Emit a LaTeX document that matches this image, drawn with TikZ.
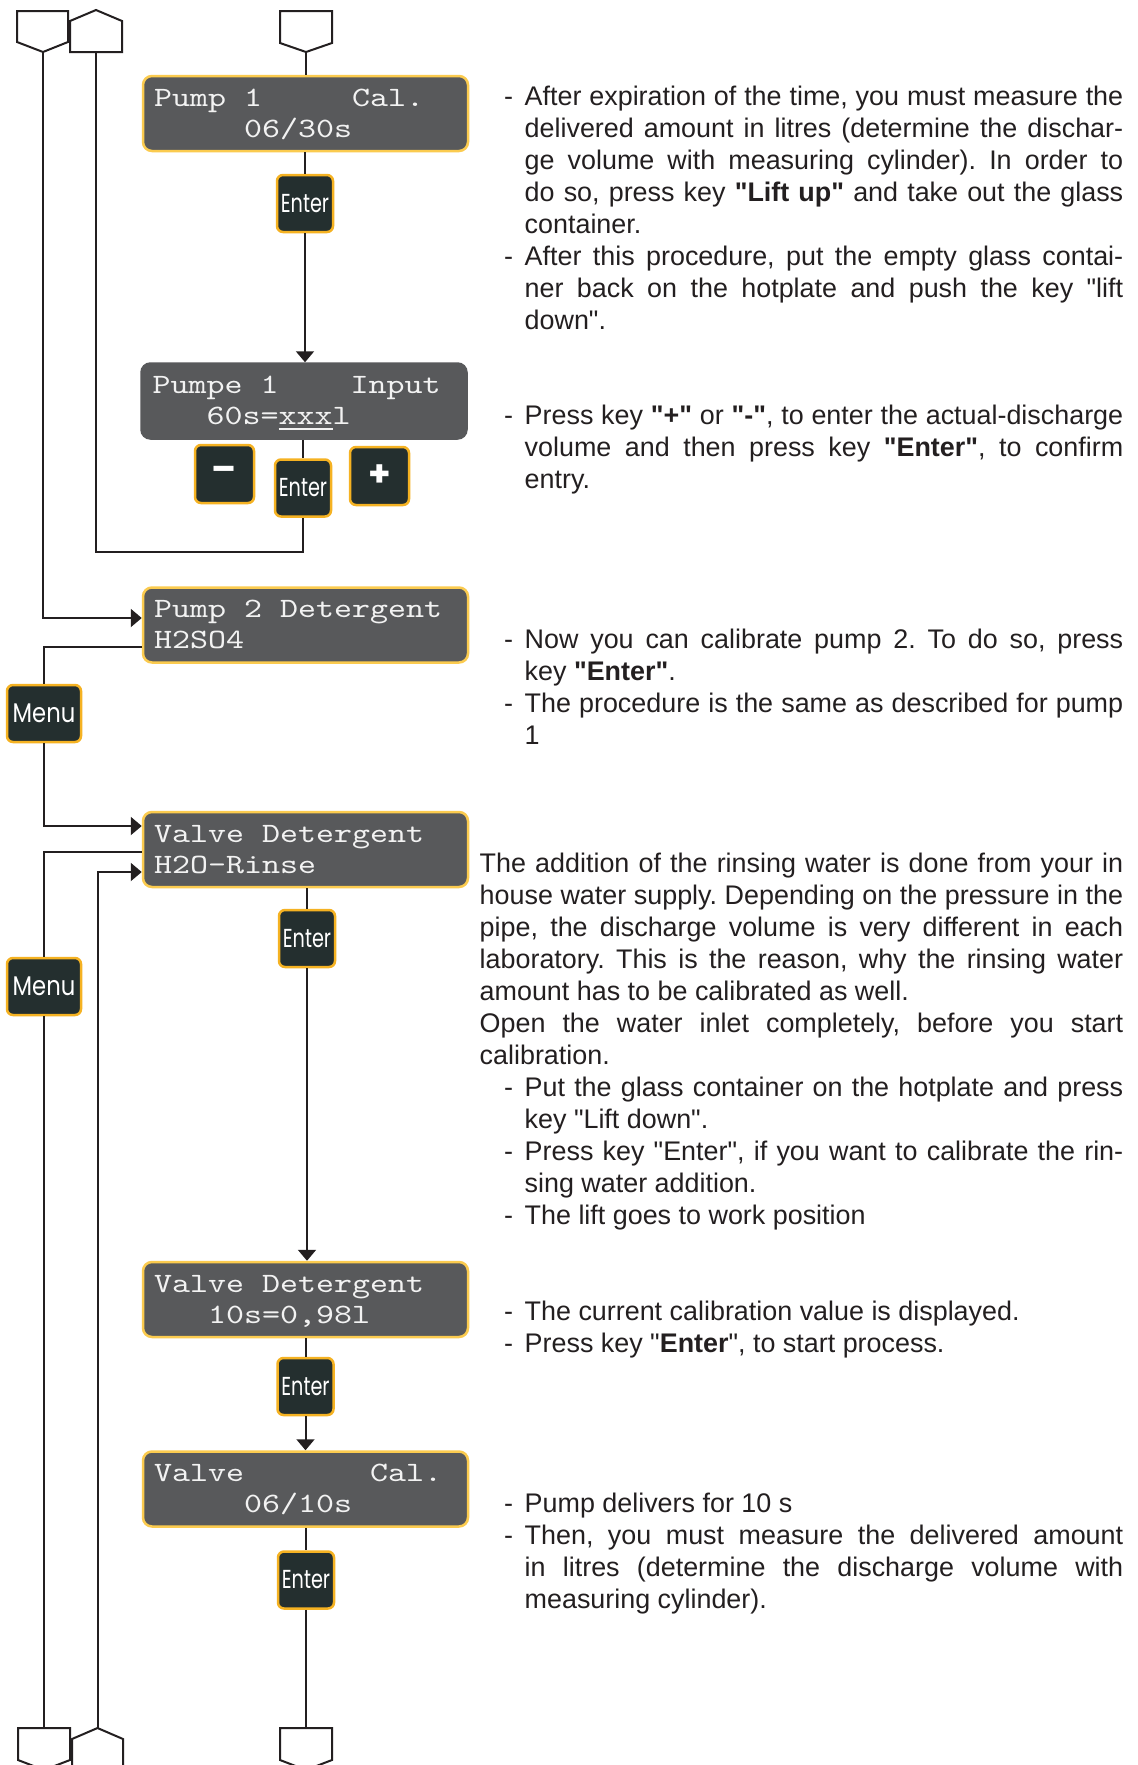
\documentclass[tikz,border=0pt]{standalone}
\usepackage{fontspec}
\usepackage{graphicx}
\setmainfont{Liberation Sans}[Ligatures=TeXOff]
\newfontfamily\keyfont{Poppins}
\newfontfamily\lcdfont{lmmono10-regular.otf}[FakeStretch=1.2245]
\usetikzlibrary{arrows.meta,calc}
\definecolor{ink}{HTML}{231F20}
\definecolor{lcd}{HTML}{58595B}
\definecolor{lcdtext}{HTML}{F2F2F2}
\definecolor{lcdborder}{HTML}{FBCB4F}
\definecolor{keyfill}{HTML}{242F2F}
\definecolor{keyborder}{HTML}{F5B222}
\tolerance=9999 \hyphenpenalty=10000 \hbadness=10000 \hfuzz=30pt
\newcommand\sk[1]{\hspace*{#1\dimexpr 18pt\relax}}
\newcommand\bodyset{\spaceskip=0pt\xspaceskip=0pt\frenchspacing\rightskip=0pt\leftskip=0pt\parfillskip=0pt plus 1fil}
\newcommand\fitem{\hangindent=20.5pt\hangafter=1\makebox[20.5pt][l]{-}}
\newcommand\bitem{\par\hangindent=20.5pt\hangafter=1\noindent\makebox[20.5pt][l]{-}}
\newcommand\lcd[6]{%
  \node[#4] (#1) at (#2,#3) {};
  \node[lcdline] (#1a) at ($(#1.center)+(-151.5,-7.5)$) {#5};
  \node[lcdline] (#1b) at ($(#1.center)+(-151.5,23.5)$) {#6};}
\tikzset{
  conn/.style={draw=ink, line width=2pt},
  arr/.style={-{Triangle[width=18pt,length=11pt]}},
  pent/.style={draw=ink, fill=white, line width=2pt, line join=miter},
  lcdbox/.style={rectangle, rounded corners=9pt, fill=lcd, draw=lcdborder, line width=2.5pt,
    minimum width=325pt, minimum height=75pt, inner sep=0pt},
  lcdplain/.style={lcdbox, draw=lcd},
  lcdline/.style={inner sep=0pt, anchor=base west, text=lcdtext, font=\lcdfont\fontsize{28}{31}\selectfont},
  keybox/.style={rectangle, rounded corners=6pt, fill=keyfill, draw=keyborder, line width=2.5pt,
    inner sep=0pt, text=white, font=\keyfont\fontsize{26}{26}\selectfont},
  enterkey/.style={keybox, minimum width=56pt, minimum height=57pt},
  menukey/.style={keybox, minimum width=74pt, minimum height=57pt, font=\keyfont\fontsize{27}{27}\selectfont},
  signkey/.style={keybox, minimum width=59pt, minimum height=58pt, font=\keyfont\bfseries\fontsize{36}{36}\selectfont},
  body/.style={inner sep=0pt, anchor=base west, text=ink, align=justify, font=\fontsize{26.9}{32}\selectfont},
}
\begin{document}
\begin{tikzpicture}[x=1pt,y=-1pt]
\useasboundingbox (0,0) rectangle (1138,1765);
\clip (0,0) rectangle (1138,1765);
\fill[white] (0,0) rectangle (1138,1765);

% off-page connectors
\draw[pent] (17,11) -- (68,11) -- (68,42) -- (43,52) -- (17,42) -- cycle;
\coordinate (pTL) at (43,52);
\draw[pent] (70,52) -- (70,21) -- (96,10) -- (122,21) -- (122,52) -- cycle;
\coordinate (pTH) at (96,52);
\draw[pent] (280,11) -- (332,11) -- (332,43) -- (306,52) -- (280,43) -- cycle;
\coordinate (pTR) at (306,52);
\draw[pent] (18,1728) -- (70,1728) -- (70,1760) -- (44,1770) -- (18,1760) -- cycle;
\coordinate (pBL) at (44,1728);
\draw[pent] (72,1780) -- (72,1739) -- (97.5,1728) -- (123,1739) -- (123,1780) -- cycle;
\coordinate (pBH) at (97.5,1728);
\draw[pent] (280,1728) -- (332,1728) -- (332,1760) -- (306,1770) -- (280,1760) -- cycle;
\coordinate (pBR) at (306,1728);
\coordinate (c1) at (96,552);

% displays
\lcd{d1}{305.5}{113.5}{lcdbox}{Pump 1\sk{5}Cal.}{\sk{5}06/30s}
\lcd{d2}{304}{401}{lcdplain}{Pumpe 1\sk{4}Input}{\sk{3}60s=\makebox[0pt][l]{\rule[-5pt]{54pt}{1.5pt}}xxxl}
\lcd{d3}{305.5}{625}{lcdbox}{Pump 2 Detergent}{H2SO4}
\lcd{d4}{305.5}{849.5}{lcdbox}{Valve Detergent}{H2O-Rinse}
\lcd{d5}{305.5}{1299.5}{lcdbox}{Valve Detergent}{\sk{3}10s=0,98l}
\lcd{d6}{305.5}{1489}{lcdbox}{Valve\sk{7}Cal.}{\sk{5}06/10s}

% keys
\node[enterkey] (en1) at (305,203.5) {\scalebox{0.74}[1]{Enter}};
\node[enterkey] (en2) at (303,488) {\scalebox{0.74}[1]{Enter}};
\node[enterkey] (en3) at (307,938.5) {\scalebox{0.74}[1]{Enter}};
\node[enterkey] (en4) at (305.5,1386.5) {\scalebox{0.74}[1]{Enter}};
\node[enterkey] (en5) at (306,1580) {\scalebox{0.74}[1]{Enter}};
\node[menukey] (m1) at (44,713.5) {\scalebox{0.84}[1]{Menu}};
\node[menukey] (m2) at (44,986.5) {\scalebox{0.84}[1]{Menu}};
\node[signkey] (minus) at (224.5,474) {–};
\node[signkey] (plus) at (379.5,476) {+};

% connectors
\draw[conn] (pTR) -- (pTR |- d1.north);
\draw[conn] (en1.north |- d1.south) -- (en1.north);
\draw[conn,arr] (en1.south) -- (en1.south |- d2.north);
\draw[conn] (en2.north |- d2.south) -- (en2.north);
\draw[conn] (en2.south) |- (c1) -- (pTH);
\draw[conn,arr] (pTL) |- ([yshift=7pt]d3.west);
\draw[conn] ([yshift=-22pt]d3.west) -| (m1.north);
\draw[conn,arr] (m1.south) |- ([yshift=23.5pt]d4.west);
\draw[conn] ([yshift=-2.5pt]d4.west) -| (m2.north);
\draw[conn] (m2.south) -- (pBL);
\draw[conn,arr] (pBH) |- ([yshift=-22.5pt]d4.west);
\draw[conn] (en3.north |- d4.south) -- (en3.north);
\draw[conn,arr] (en3.south) -- (en3.south |- d5.north);
\draw[conn] (en4.north |- d5.south) -- (en4.north);
\draw[conn,arr] (en4.south) -- (en4.south |- d6.north);
\draw[conn] (en5.north |- d6.south) -- (en5.north);
\draw[conn] (en5.south) -- (pBR);

% texts
\node[body, text width=619pt] (tA) at (504,105) {\bodyset\fitem After expiration of the time, you must measure the\linebreak delivered amount in litres (determine the dischar-\linebreak ge volume with measuring cylinder). In order to\linebreak do so, press key \textbf{"Lift up"} and take out the glass\linebreak container.\bitem After this procedure, put the empty glass contai-\linebreak ner back on the hotplate and push the key "lift\linebreak down".\par};

\node[body, text width=619pt] (tB) at (504,424) {\bodyset\fitem Press key \textbf{"+"} or \textbf{"-"}, to enter the actual-discharge\linebreak volume and then press key \textbf{"Enter"}, to confirm\linebreak entry.\par};

\node[body, text width=619pt] (tC) at (504,648) {\bodyset\fitem Now you can calibrate pump 2. To do so, press\linebreak key \textbf{"Enter"}.\bitem The procedure is the same as described for pump\linebreak 1\par};

\node[body, text width=643.5pt] (tD) at (479.5,872) {\bodyset The addition of the rinsing water is done from your in\linebreak house water supply. Depending on the pressure in the\linebreak pipe, the discharge volume is very different in each\linebreak laboratory. This is the reason, why the rinsing water\linebreak amount has to be calibrated as well.\par Open the water inlet completely, before you start\linebreak calibration.\par\leftskip=24.5pt\bitem Put the glass container on the hotplate and press\linebreak key "Lift down".\bitem Press key "Enter", if you want to calibrate the rin-\linebreak sing water addition.\bitem The lift goes to work position\par};

\node[body, text width=619pt] (tE) at (504,1320) {\bodyset\fitem The current calibration value is displayed.\bitem Press key "\textbf{Enter}", to start process.\par};

\node[body, text width=619pt] (tF) at (504,1512) {\bodyset\fitem Pump delivers for 10 s\bitem Then, you must measure the delivered amount\linebreak in litres (determine the discharge volume with\linebreak measuring cylinder).\par};
\end{tikzpicture}
\end{document}
